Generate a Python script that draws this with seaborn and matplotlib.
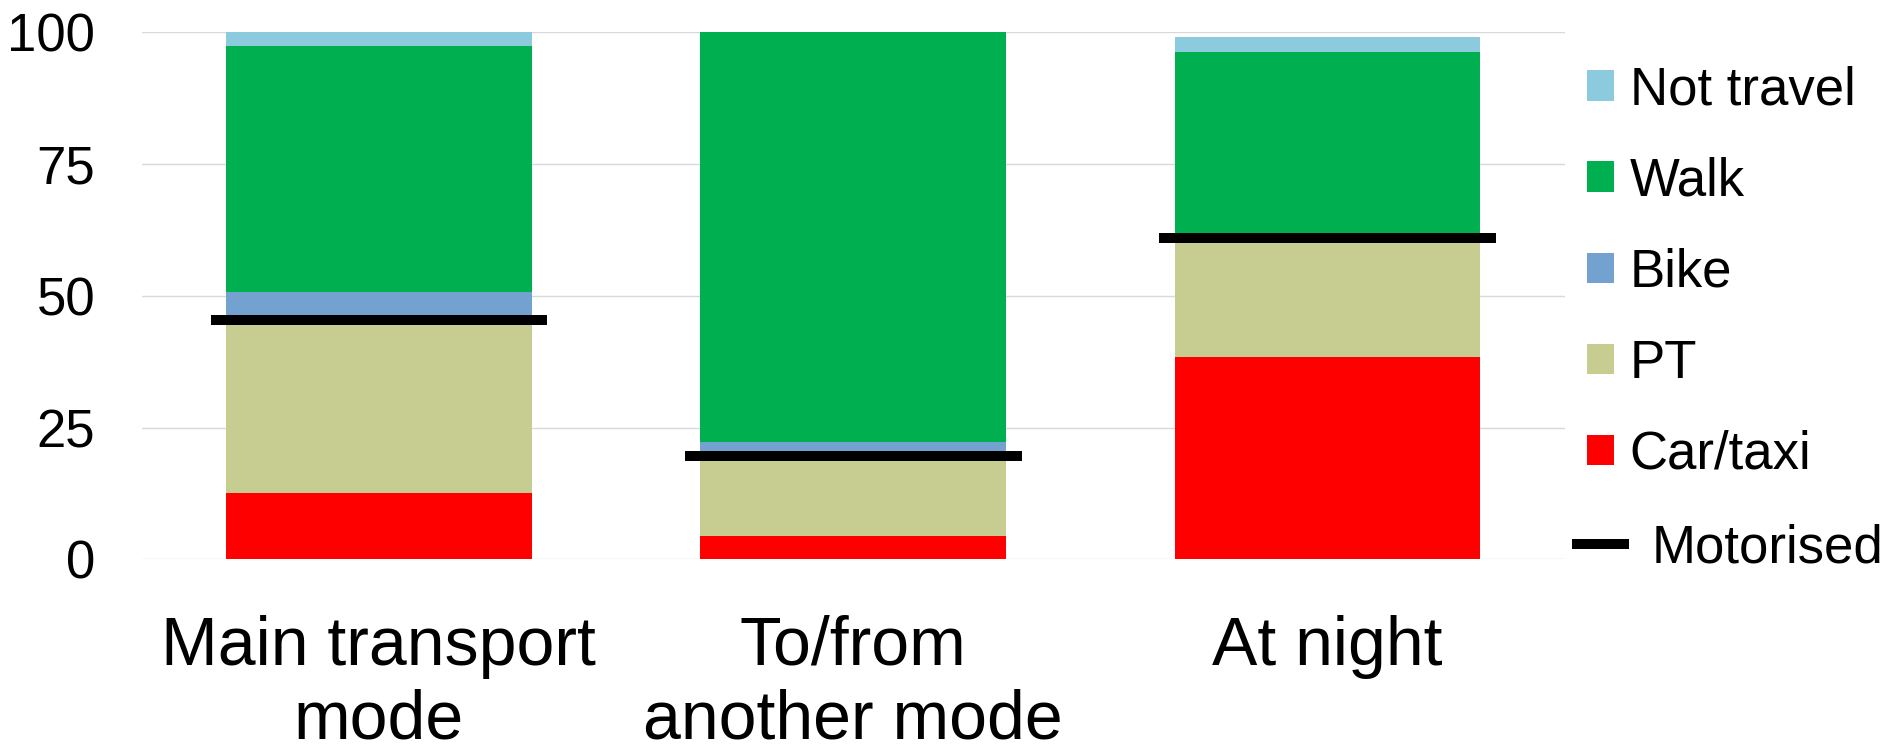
import matplotlib
matplotlib.use("Agg")
import matplotlib.pyplot as plt
from matplotlib.patches import Patch
from matplotlib.lines import Line2D
import numpy as np
import pandas as pd
import seaborn as sns

# Share of trips by mode (%), per journey context
categories = ["Main transport\nmode", "To/from\nanother mode", "At night"]
car_taxi = [12.6, 4.5, 38.4]
pt = [32.8, 15.1, 22.5]
bike = [5.3, 2.6, 1.1]
walk = [46.7, 77.8, 34.3]
not_travel = [2.6, 0.0, 2.8]
motorised = [45.4, 19.6, 60.9]

series_names = ["Car/taxi", "PT", "Bike", "Walk", "Not travel"]
series_values = [car_taxi, pt, bike, walk, not_travel]
series_colors = ["#FF0000", "#C7CD90", "#73A2D1", "#00B050", "#8CCADD"]

y_ticks = [0, 25, 50, 75, 100]

sns.set_theme(style="white")
plt.rcParams["font.family"] = ["Liberation Sans", "DejaVu Sans"]

FS = 38  # points at 100 dpi

fig = plt.figure(figsize=(19, 7.52), dpi=100)
ax = fig.add_axes([0.0746, 0.2563, 0.7489, 0.7007])

# Stacked bars: draw cumulative totals from the top layer down so each
# lower layer overlays the one above it.
cum = np.cumsum(np.array(series_values), axis=0)
bar_width = 0.645
for i in range(len(series_names) - 1, -1, -1):
    df = pd.DataFrame({"category": categories, "value": cum[i]})
    sns.barplot(data=df, x="category", y="value", color=series_colors[i],
                saturation=1, width=bar_width, linewidth=0, ax=ax,
                errorbar=None, zorder=2)

# Motorised share marker across each bar
xpos = np.arange(len(categories))
half = 0.355
ax.hlines(motorised, xpos - half, xpos + half, colors="black",
          linewidth=7.2, zorder=4)

ax.set_xlim(-0.5, len(categories) - 0.5)
ax.set_ylim(0, 100)
ax.set_yticks(y_ticks)
ax.set_yticklabels([str(t) for t in y_ticks])
ax.yaxis.grid(True, color="#D9D9D9", linewidth=1.0, zorder=0)
ax.xaxis.grid(False)
ax.set_axisbelow(True)
for s in ax.spines.values():
    s.set_visible(False)
ax.set_xlabel("")
ax.set_ylabel("")
ax.tick_params(axis="y", length=0, pad=33.6, labelsize=FS, labelcolor="black")
ax.tick_params(axis="x", length=0, pad=40, labelsize=49, labelcolor="black")
for lab in ax.get_xticklabels():
    lab.set_linespacing(1.19)

# Legend: mode patches (top layer first) and the motorised line
patch_handles = [Patch(facecolor=series_colors[i], edgecolor="none",
                       label=series_names[i])
                 for i in range(len(series_names) - 1, -1, -1)]
leg1 = fig.legend(handles=patch_handles, loc="center left",
                  bbox_to_anchor=(0.8353, 0.6377), frameon=False,
                  fontsize=FS, handlelength=0.51, handleheight=0.51,
                  handletextpad=0.3, labelspacing=0.78, borderpad=0,
                  borderaxespad=0, labelcolor="black")
line_handle = [Line2D([0], [0], color="black", linewidth=7.2,
                      solid_capstyle="butt", label="Motorised")]
leg2 = fig.legend(handles=line_handle, loc="center left",
                  bbox_to_anchor=(0.8272, 0.270), frameon=False,
                  fontsize=FS, handlelength=1.08, handletextpad=0.43,
                  borderpad=0, borderaxespad=0, labelcolor="black")

fig.savefig("out.png", dpi=100, facecolor="white")
